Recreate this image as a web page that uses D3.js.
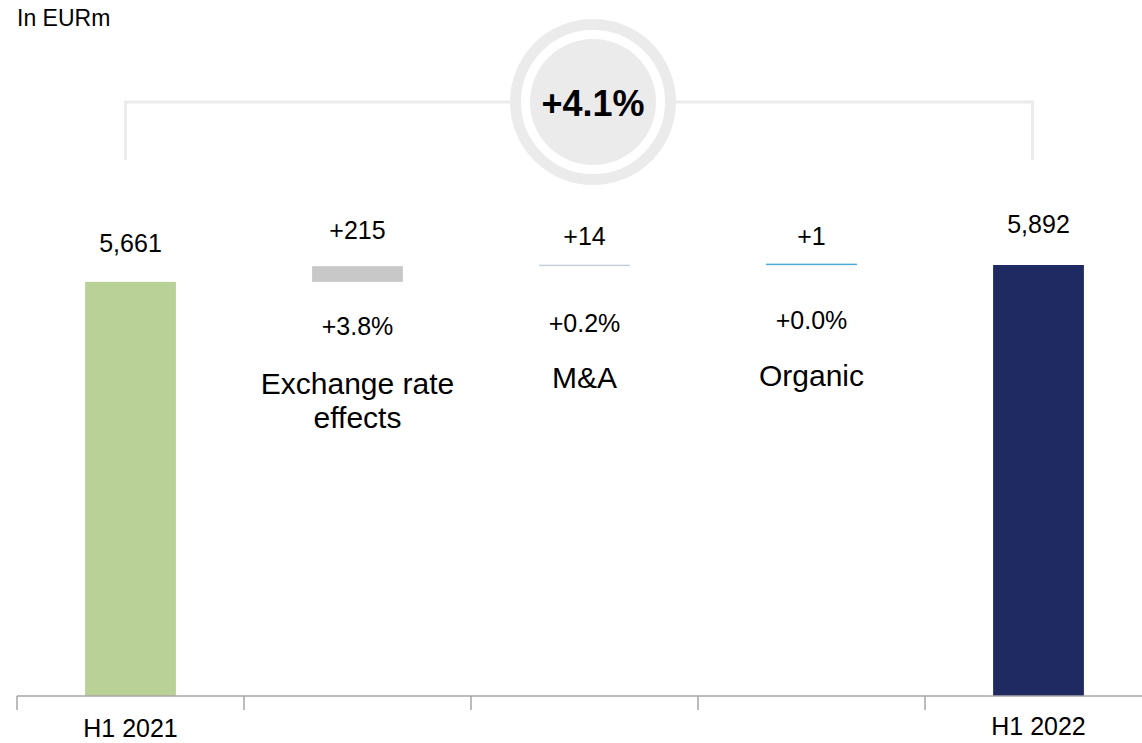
<!DOCTYPE html>
<html><head><meta charset="utf-8">
<script src="https://cdn.jsdelivr.net/npm/d3@7"></script>
<style>body{margin:0;background:#fff}svg{display:block;font-family:"Liberation Sans",Arial,sans-serif}</style>
</head><body>
<svg id="c" width="1142" height="743"></svg>
<script>
const categories = ["H1 2021", "Exchange rate effects", "M&A", "Organic", "H1 2022"];
const values = [5661, 215, 14, 1, 5892];
const kinds = ["total", "delta", "delta", "delta", "total"];
const valueLabels = ["5,661", "+215", "+14", "+1", "5,892"];
const pctLabels = ["", "+3.8%", "+0.2%", "+0.0%", ""];
const catLines = [[], ["Exchange rate", "effects"], ["M&A"], ["Organic"], []];
const axisLabels = ["H1 2021", "", "", "", "H1 2022"];
const colors = ["#b9d196", "#c8c8c8", "#c5ced8", "#4aa9d9", "#1f2a63"];
const unitLabel = "In EURm";
const growthLabel = "+4.1%";

const svg = d3.select("#c");
const x = d3.scaleBand().domain(categories).range([17, 1152]).paddingInner(0.6).paddingOuter(0.3);
const y = d3.scaleLinear().domain([0, 5892]).range([696, 265]);

// compute waterfall
let cum = 0;
const bars = categories.map((c, i) => {
  let lo, hi;
  if (kinds[i] === "total") { lo = 0; hi = values[i]; cum = values[i]; }
  else { lo = cum; hi = cum + values[i]; cum = hi; }
  return {c, i, lo, hi};
});

svg.append("text").attr("x", 17).attr("y", 26).attr("font-size", 23).attr("fill", "#000").text(unitLabel);

// bracket
const xL = x(categories[0]) + x.bandwidth()/2 - 5;
const xR = x(categories[4]) + x.bandwidth()/2 - 6;
svg.append("path").attr("d", `M${xL},160V102H${xR}V160`).attr("fill", "none").attr("stroke", "#ebebeb").attr("stroke-width", 3);
const cx = 593, cy = 102;
svg.append("circle").attr("cx", cx).attr("cy", cy).attr("r", 77.5).attr("fill", "#fff").attr("stroke", "#ebebeb").attr("stroke-width", 11);
svg.append("circle").attr("cx", cx).attr("cy", cy).attr("r", 63).attr("fill", "#ebebeb");
svg.append("text").attr("x", cx).attr("y", 116).attr("text-anchor", "middle").attr("font-size", 36).attr("font-weight", "bold").attr("fill", "#000").text(growthLabel);

// bars
svg.selectAll("rect.bar").data(bars).join("rect").attr("class", "bar")
  .attr("x", d => x(d.c)).attr("width", x.bandwidth())
  .attr("y", d => Math.min(y(d.hi), y(d.lo) - 1.5))
  .attr("height", d => Math.max(y(d.lo) - y(d.hi), 1.5))
  .attr("fill", (d, i) => colors[i]);

// value labels
const labelOffset = [30, 27, 20, 20, 32];
svg.selectAll("text.val").data(bars).join("text").attr("class", "val")
  .attr("x", d => x(d.c) + x.bandwidth()/2)
  .attr("y", (d, i) => y(d.hi) - labelOffset[i])
  .attr("text-anchor", "middle").attr("font-size", 25).attr("fill", "#000")
  .text((d, i) => valueLabels[i]);

// pct labels
const pctY = [0, 335, 332, 329, 0];
svg.selectAll("text.pct").data(bars.filter((d, i) => pctLabels[i])).join("text").attr("class", "pct")
  .attr("x", d => x(d.c) + x.bandwidth()/2)
  .attr("y", d => pctY[d.i])
  .attr("text-anchor", "middle").attr("font-size", 25).attr("fill", "#000")
  .text(d => pctLabels[d.i]);

// category labels
const catY = [0, 394, 388, 386, 0];
bars.forEach(d => {
  catLines[d.i].forEach((ln, k) => {
    svg.append("text").attr("x", x(d.c) + x.bandwidth()/2).attr("y", catY[d.i] + k * 34)
      .attr("text-anchor", "middle").attr("font-size", 30).attr("fill", "#000").text(ln);
  });
});

// axis
const ax = svg.append("g").attr("transform", "translate(0,696)");
ax.append("line").attr("x1", 17).attr("x2", 1142).attr("stroke", "#a6a6a6").attr("stroke-width", 1.5);
ax.selectAll("line.tick").data(categories).join("line").attr("class", "tick")
  .attr("x1", d => x(d) - (x.step() - x.bandwidth())/2).attr("x2", d => x(d) - (x.step() - x.bandwidth())/2)
  .attr("y1", 0).attr("y2", 14).attr("stroke", "#a6a6a6").attr("stroke-width", 1.5);
const axY = [737, 0, 0, 0, 735];
ax.selectAll("text.al").data(bars.filter((d, i) => axisLabels[i])).join("text").attr("class", "al")
  .attr("x", d => x(d.c) + x.bandwidth()/2)
  .attr("y", d => axY[d.i] - 696)
  .attr("text-anchor", "middle").attr("font-size", 25).attr("fill", "#000")
  .text(d => axisLabels[d.i]);
</script>
</body></html>
